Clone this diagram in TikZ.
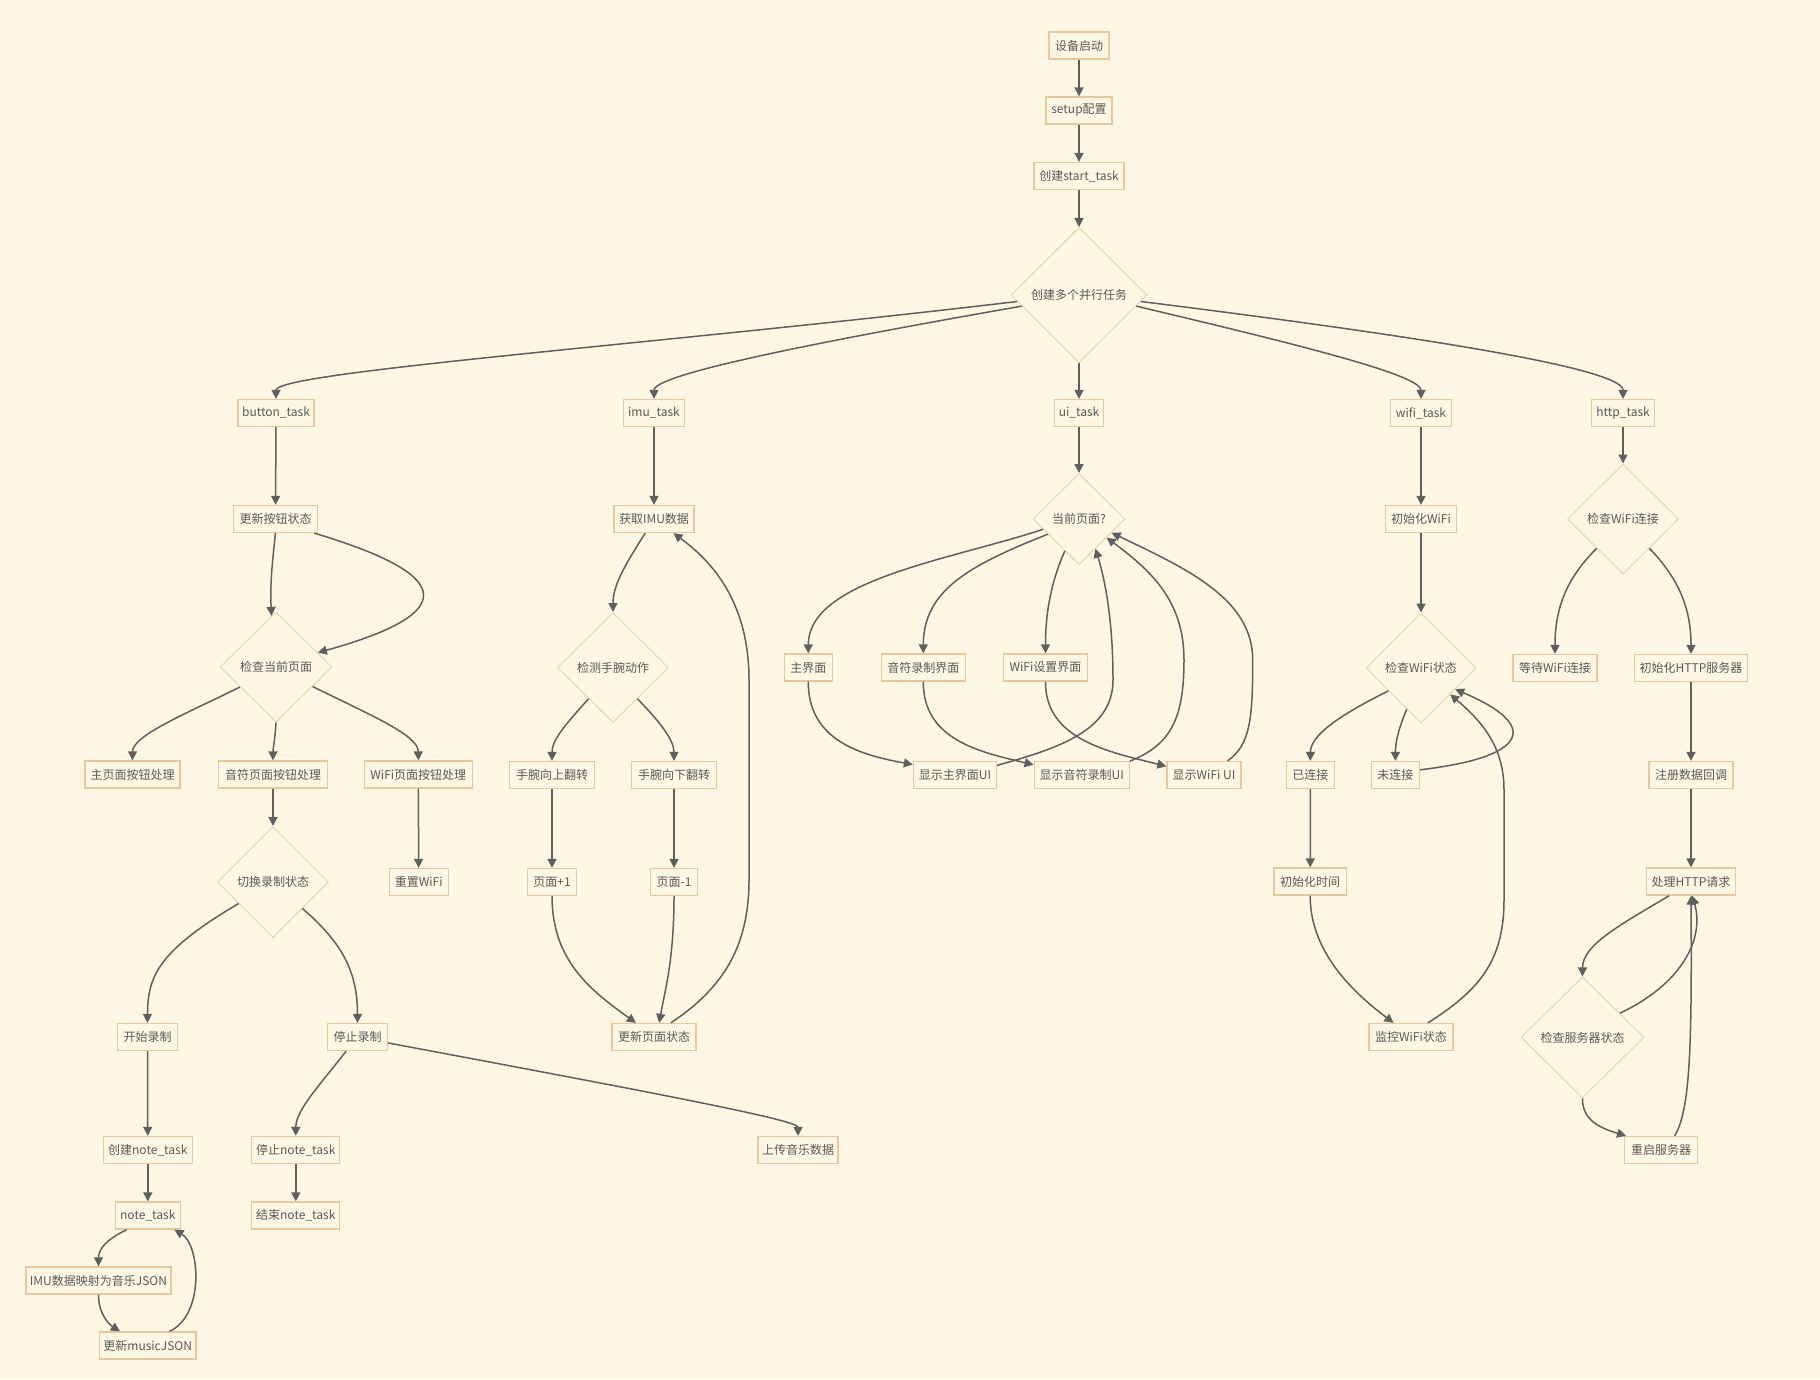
\documentclass[tikz,border=0pt]{standalone}
\usepackage{fontspec}
\setmainfont{Noto Sans CJK SC}
\usetikzlibrary{shapes.geometric,arrows.meta}
\definecolor{bg}{HTML}{FDF6E3}
\definecolor{boxc}{HTML}{E6C8A0}
\definecolor{diac}{HTML}{EBD3B2}
\definecolor{txt}{HTML}{5A5A5A}
\definecolor{edgec}{HTML}{5F5F5F}
\tikzset{
 box/.style={draw=boxc, line width=1.3pt, fill=bg, text=txt, font=\fontsize{12}{14}\selectfont, minimum height=27pt, inner xsep=4pt, inner ysep=0pt},
 mw/.style={minimum width=#1 pt},
 dia/.style={diamond, draw=diac, line width=1pt, fill=bg, text=txt, font=\fontsize{12}{14}\selectfont, inner sep=0pt, aspect=1},
 dsz/.style 2 args={minimum width=#1 pt, minimum height=#2 pt},
 edge/.style={draw=edgec, line width=1.5pt, -{Triangle[length=9pt,width=9pt]}}
}
\begin{document}
\begin{tikzpicture}[x=1pt,y=-1pt]
\fill[bg] (0,0) rectangle (1820,1379);
% top chain
\node[box,mw=60] (n1) at (1079,45.5) {设备启动};
\node[box,mw=66] (n2) at (1079,110.5) {setup配置};
\node[box,mw=90] (n3) at (1079,176) {创建start\_task};
\node[dia,dsz={136}{135}] (d1) at (1079,295) {创建多个并行任务};
% tasks
\node[box,mw=76] (bt) at (276,413) {button\_task};
\node[box,mw=61] (imu) at (654,413) {imu\_task};
\node[box,mw=45] (ui) at (1079,413) {ui\_task};
\node[box,mw=61] (wt) at (1421,413) {wifi\_task};
\node[box,mw=63] (ht) at (1623,413) {http\_task};
% second row
\node[box,mw=84] (b1) at (275.5,519) {更新按钮状态};
\node[box,mw=80] (i1) at (654,519) {获取IMU数据};
\node[dia,dsz={92}{91}] (dui) at (1079,519) {当前页面?};
\node[box,mw=71] (w1) at (1421,519) {初始化WiFi};
\node[dia,dsz={111}{110}] (dhttp) at (1623,519) {检查WiFi连接};
% third row
\node[dia,dsz={112}{110}] (db) at (276,667) {检查当前页面};
\node[dia,dsz={111}{110}] (di) at (613,667.5) {检测手腕动作};
\node[box,mw=48] (u1) at (808.3,667.5) {主界面};
\node[box,mw=84] (u2) at (923.3,667.5) {音符录制界面};
\node[box,mw=84] (u3) at (1045.5,667.5) {WiFi设置界面};
\node[dia,dsz={110}{110}] (dw) at (1421,668) {检查WiFi状态};
\node[box,mw=84] (h1) at (1555,668) {等待WiFi连接};
\node[box,mw=113] (h2) at (1691,668) {初始化HTTP服务器};
% fourth row
\node[box,mw=95] (b2) at (132.5,774.5) {主页面按钮处理};
\node[box,mw=109] (b3) at (273,774.5) {音符页面按钮处理};
\node[box,mw=108] (b4) at (418.3,774.5) {WiFi页面按钮处理};
\node[box,mw=85] (i2) at (552,775) {手腕向上翻转};
\node[box,mw=85] (i3) at (674,775) {手腕向下翻转};
\node[box,mw=83] (u4) at (955,775) {显示主界面UI};
\node[box,mw=95] (u5) at (1081.7,775) {显示音符录制UI};
\node[box,mw=74] (u6) at (1204,775) {显示WiFi UI};
\node[box,mw=48] (w2) at (1310.4,775) {已连接};
\node[box,mw=48] (w3) at (1395.4,775) {未连接};
\node[box,mw=84] (h3) at (1691,775) {注册数据回调};
% fifth row
\node[dia,dsz={111}{111}] (dr) at (273,882) {切换录制状态};
\node[box,mw=59] (b5) at (418.7,882) {重置WiFi};
\node[box,mw=49] (i4) at (552,882) {页面+1};
\node[box,mw=47] (i5) at (674,882) {页面-1};
\node[box,mw=72.5] (w4) at (1310.2,881.5) {初始化时间};
\node[box,mw=89] (h4) at (1691,881.5) {处理HTTP请求};
% sixth row
\node[box,mw=60] (r1) at (147.5,1037) {开始录制};
\node[box,mw=60] (r2) at (357.5,1037) {停止录制};
\node[box,mw=84] (i6) at (654,1037) {更新页面状态};
\node[box,mw=84] (w5) at (1411,1037) {监控WiFi状态};
\node[dia,dsz={123}{121}] (ds) at (1582.5,1037.4) {检查服务器状态};
% seventh row
\node[box,mw=89] (r3) at (147.8,1150) {创建note\_task};
\node[box,mw=88] (r4) at (295.8,1150) {停止note\_task};
\node[box,mw=80] (r5) at (798,1150) {上传音乐数据};
\node[box,mw=72.5] (h5) at (1661,1150) {重启服务器};
\node[box,mw=65] (r6) at (147.8,1215.5) {note\_task};
\node[box,mw=88] (r7) at (295.8,1215.5) {结束note\_task};
\node[box,mw=144] (r8) at (98.5,1280.5) {IMU数据映射为音乐JSON};
\node[box,mw=94] (r9) at (147.7,1345.5) {更新musicJSON};

% edges: top
\draw[edge] (n1) -- (n2);
\draw[edge] (n2) -- (n3);
\draw[edge] (n3) -- (d1);
\draw[edge] (d1.186) .. controls (650,345) and (276,372) .. (bt.north);
\draw[edge] (d1.191) .. controls (800,345) and (654,375) .. (imu.north);
\draw[edge] (d1) -- (ui);
\draw[edge] (d1.349) .. controls (1300,345) and (1421,375) .. (wt.north);
\draw[edge] (d1.354) .. controls (1450,340) and (1623,370) .. (ht.north);
% button
\draw[edge] (bt) -- (b1);
\draw[edge] (b1.south) .. controls (272,565) and (270,585) .. (db.95);
\draw[edge] (b1.-20) .. controls (420,565) and (490,605) .. (db.19);
\draw[edge] (db.209) .. controls (190,712) and (132.5,735) .. (b2.north);
\draw[edge] (db.south) .. controls (275,740) and (273,748) .. (b3.north);
\draw[edge] (db.-28) .. controls (370,715) and (418.3,735) .. (b4.north);
\draw[edge] (b3) -- (dr);
\draw[edge] (b4) -- (b5);
\draw[edge] (dr.212) .. controls (160,950) and (147.5,975) .. (r1.north);
\draw[edge] (dr.-42) .. controls (345,945) and (357.5,975) .. (r2.north);
\draw[edge] (r1) -- (r3);
\draw[edge] (r3) -- (r6);
\draw[edge] (r2.231) .. controls (320,1085) and (295.8,1110) .. (r4.north);
\draw[edge] (r4) -- (r7);
\draw[edge] (r2.-11) .. controls (650,1092) and (798,1120) .. (r5.north);
\draw[edge] (r6.214) .. controls (105,1240) and (98.5,1250) .. (r8.north);
\draw[edge] (r8.south) .. controls (98.5,1315) and (110,1325) .. (r9.153);
\draw[edge] (r9.33) .. controls (205,1315) and (200,1245) .. (r6.-28.5);
% imu
\draw[edge] (imu) -- (i1);
\draw[edge] (i1.238) .. controls (625,565) and (613,585) .. (di.north);
\draw[edge] (di.232) .. controls (565,725) and (552,740) .. (i2.north);
\draw[edge] (di.-52) .. controls (660,722) and (674,740) .. (i3.north);
\draw[edge] (i2) -- (i4);
\draw[edge] (i3) -- (i5);
\draw[edge] (i4.south) .. controls (552,960) and (590,990) .. (i6.142);
\draw[edge] (i5.south) .. controls (674,960) and (665,990) .. (i6.70);
\draw[edge] (i6.40) .. controls (720,990) and (749,950) .. (749,880) -- (749,680) .. controls (749,600) and (710,560) .. (i1.-36);
% ui
\draw[edge] (ui) -- (dui);
\draw[edge] (dui.196) .. controls (950,560) and (808.3,580) .. (u1.north);
\draw[edge] (dui.206) .. controls (970,565) and (923.3,590) .. (u2.north);
\draw[edge] (dui.246) .. controls (1052,580) and (1045.5,610) .. (u3.north);
\draw[edge] (u1.south) .. controls (808,740) and (860,755) .. (u4.166);
\draw[edge] (u2.south) .. controls (923,740) and (980,752) .. (u5.168);
\draw[edge] (u3.south) .. controls (1045,740) and (1110,752) .. (u6.167);
\draw[edge] (u4.13.5) .. controls (1060,748) and (1113,730) .. (1113,680) .. controls (1113,620) and (1105,580) .. (dui.-61);
\draw[edge] (u5.16.7) .. controls (1170,745) and (1184,720) .. (1184,660) .. controls (1184,600) and (1150,570) .. (dui.-34);
\draw[edge] (u6.31) .. controls (1250,745) and (1252.7,720) .. (1252.7,660) .. controls (1252.7,600) and (1190,570) .. (dui.-23);
% wifi
\draw[edge] (wt) -- (w1);
\draw[edge] (w1) -- (dw);
\draw[edge] (dw.215) .. controls (1340,715) and (1310.4,735) .. (w2.north);
\draw[edge] (dw.251) .. controls (1400,725) and (1395.4,740) .. (w3.north);
\draw[edge] (w3.12) .. controls (1530,757) and (1540,725) .. (dw.-32);
\draw[edge] (w2) -- (w4);
\draw[edge] (w4.south) .. controls (1310,950) and (1350,990) .. (w5.141.5);
\draw[edge] (w5.40) .. controls (1480,990) and (1504,960) .. (1504,900) -- (1504,790) .. controls (1504,745) and (1480,720) .. (dw.-42);
% http
\draw[edge] (ht) -- (dhttp);
\draw[edge] (dhttp.228) .. controls (1565,580) and (1555,610) .. (h1.north);
\draw[edge] (dhttp.-48) .. controls (1680,580) and (1691,610) .. (h2.north);
\draw[edge] (h2) -- (h3);
\draw[edge] (h3) -- (h4);
\draw[edge] (h4.213.6) .. controls (1620,925) and (1582.5,945) .. (ds.north);
\draw[edge] (ds.33) .. controls (1680,985) and (1705,940) .. (h4.-85);
\draw[edge] (ds.south) .. controls (1582,1120) and (1600,1128) .. (h5.158);
\draw[edge] (h5.46) .. controls (1690,1110) and (1692,1050) .. (h4.south);
\end{tikzpicture}
\end{document}
